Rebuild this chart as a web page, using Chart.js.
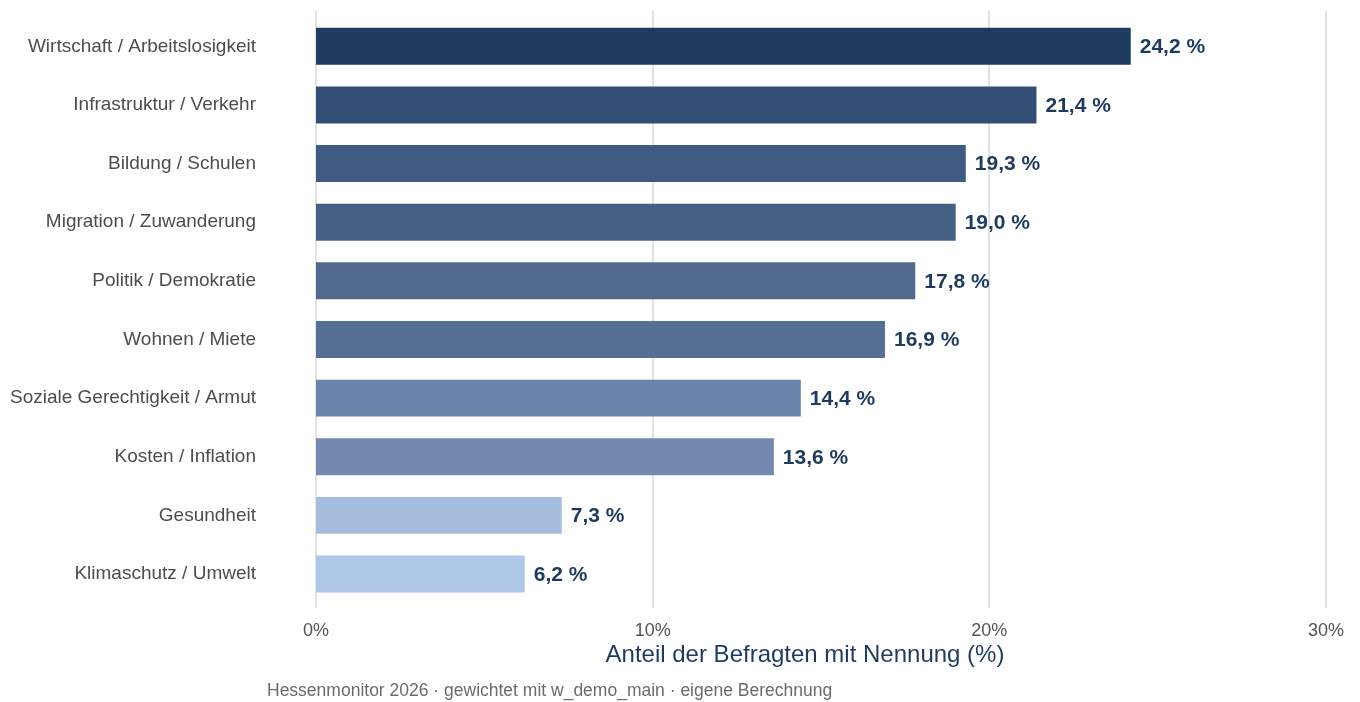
<!DOCTYPE html>
<html lang="de">
<head>
    <meta charset="UTF-8">
    <title>Hessenmonitor 2026</title>
    <script src="https://cdn.jsdelivr.net/npm/chart.js"></script>
    <style>
        html, body { margin: 0; padding: 0; background: #fff; }
        #wrap { width: 1360px; height: 702px; }
    </style>
</head>
<body>
    <div id="wrap">
        <canvas id="themenChart" width="1360" height="702"></canvas>
    </div>
    <script>
        var categories = [
            'Wirtschaft / Arbeitslosigkeit',
            'Infrastruktur / Verkehr',
            'Bildung / Schulen',
            'Migration / Zuwanderung',
            'Politik / Demokratie',
            'Wohnen / Miete',
            'Soziale Gerechtigkeit / Armut',
            'Kosten / Inflation',
            'Gesundheit',
            'Klimaschutz / Umwelt'
        ];
        var shares = [24.2, 21.4, 19.3, 19.0, 17.8, 16.9, 14.4, 13.6, 7.3, 6.2];
        var xTicks = [0, 10, 20, 30];

        var barColors = ['#1f3a5f', '#334f75', '#3f5b81', '#465f85', '#52698e', '#566f94',
                         '#6b84ab', '#7389b0', '#a6bde0', '#aec6e8'];

        var FONT = '"Liberation Sans", Arial, sans-serif';
        var NAVY = '#1f3a5f';

        // vertical grid lines, a bit longer than the chart area (like the original)
        var gridLines = {
            id: 'gridLines',
            beforeDatasetsDraw: function (chart) {
                var ctx = chart.ctx;
                var x = chart.scales.x;
                var area = chart.chartArea;
                ctx.save();
                ctx.strokeStyle = '#e3e3e3';
                ctx.lineWidth = 2;
                xTicks.forEach(function (v) {
                    var px = Math.round(x.getPixelForValue(v));
                    ctx.beginPath();
                    ctx.moveTo(px, area.top - 6);
                    ctx.lineTo(px, area.bottom + 5);
                    ctx.stroke();
                });
                ctx.restore();
            }
        };

        // value labels at the bar ends, plus axis title and caption
        var extras = {
            id: 'extras',
            afterDatasetsDraw: function (chart) {
                var ctx = chart.ctx;
                var meta = chart.getDatasetMeta(0);
                ctx.save();
                ctx.font = 'bold 21px ' + FONT;
                ctx.fillStyle = NAVY;
                ctx.textAlign = 'left';
                ctx.textBaseline = 'middle';
                meta.data.forEach(function (bar, i) {
                    ctx.fillText(shares[i].toFixed(1).replace('.', ',') + ' %', bar.x + 9, bar.y + 1);
                });
                ctx.font = '24px ' + FONT;
                ctx.textAlign = 'center';
                ctx.fillText('Anteil der Befragten mit Nennung (%)', 805, 655);
                ctx.font = '17.5px ' + FONT;
                ctx.fillStyle = '#6b6b6b';
                ctx.textAlign = 'left';
                ctx.fillText('Hessenmonitor 2026 \u00b7 gewichtet mit w_demo_main \u00b7 eigene Berechnung', 267, 691);
                ctx.restore();
            }
        };

        var ctx = document.getElementById('themenChart').getContext('2d');
        new Chart(ctx, {
            type: 'bar',
            data: {
                labels: categories,
                datasets: [{
                    data: shares,
                    backgroundColor: barColors,
                    borderWidth: 0,
                    barPercentage: 0.63,
                    categoryPercentage: 1.0
                }]
            },
            options: {
                indexAxis: 'y',
                responsive: false,
                animation: false,
                layout: { padding: { left: 0, right: 34, top: 17, bottom: 0 } },
                plugins: {
                    legend: { display: false },
                    tooltip: { enabled: false }
                },
                scales: {
                    x: {
                        min: 0,
                        max: 30,
                        afterBuildTicks: function (scale) {
                            scale.ticks = xTicks.map(function (v) { return { value: v }; });
                        },
                        afterFit: function (scale) {
                            scale.height = 98.7;
                            scale.paddingLeft = 0;
                            scale.paddingRight = 0;
                        },
                        border: { display: false },
                        grid: { display: false, drawTicks: false },
                        ticks: {
                            padding: 17,
                            color: '#555555',
                            font: { family: FONT, size: 18 },
                            callback: function (v) { return v + '%'; }
                        }
                    },
                    y: {
                        afterFit: function (scale) {
                            scale.width = 316;
                            scale.paddingTop = 0;
                            scale.paddingBottom = 0;
                        },
                        border: { display: false },
                        grid: { display: false, drawTicks: false },
                        ticks: {
                            padding: 60,
                            color: '#4d4d4d',
                            font: { family: FONT, size: 19 }
                        }
                    }
                }
            },
            plugins: [gridLines, extras]
        });
    </script>
</body>
</html>
